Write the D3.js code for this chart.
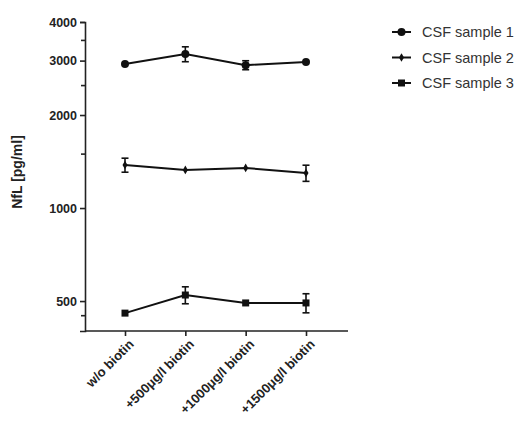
<!doctype html>
<html>
    <head>
        <style>
            body {margin:0; background:#fff}
            svg {width:523px; height:422px; font-family:"Liberation Sans", Arial, sans-serif}
            .axis path, .axis line {fill:none; stroke:#222; stroke-width:1.6px}
            .axis text {font-weight:bold; font-size:12.5px; fill:#222}
        </style>
        <script src="https://d3js.org/d3.v7.min.js"></script>
    </head>
    <body>
        <script>
            // data
            var categories = ["w/o biotin", "+500\u03bcg/l biotin", "+1000\u03bcg/l biotin", "+1500\u03bcg/l biotin"];
            var seriesNames = ["CSF sample 1", "CSF sample 2", "CSF sample 3"];
            var sample1 = [2925, 3150, 2900, 2970];
            var sample2 = [1378, 1328, 1348, 1298];
            var sample3 = [457, 523, 493, 493];
            var err1 = [0, 175, 97, 0];
            var err2 = [72, 0, 0, 78];
            var err3 = [0, 33, 0, 35];
            var yTicks = [500, 1000, 2000, 3000, 4000];
            var yMinorTicks = [450, 1500, 2500, 3500];

            var series = [
                {name:seriesNames[0], values:sample1, err:err1, shape:"circle"},
                {name:seriesNames[1], values:sample2, err:err2, shape:"diamond"},
                {name:seriesNames[2], values:sample3, err:err3, shape:"square"}
            ];

            var svg = d3.select("body").append("svg");

            var x = d3.scalePoint().domain(categories).range([125, 306]);
            var y = d3.scaleLog().domain([400, 4000]).range([331, 22]);

            // y axis
            svg.append("g").attr("class","axis")
                .attr("transform","translate(85,0)")
                .call(d3.axisLeft(y).tickValues(yTicks).tickFormat(d3.format("d")).tickSizeOuter(0).tickSize(5).tickPadding(3));
            svg.append("g").attr("class","axis")
                .attr("transform","translate(85,0)")
                .call(d3.axisLeft(y).tickValues(yMinorTicks).tickFormat("").tickSizeOuter(0).tickSize(4))
                .select("path").remove();

            // x axis
            var xAxis = svg.append("g").attr("class","axis")
                .attr("transform","translate(0,331)")
                .call(d3.axisBottom(x).tickSizeOuter(0).tickSize(5));
            xAxis.select("path").attr("d","M85,0H348");
            xAxis.selectAll("text")
                .style("text-anchor","end")
                .attr("x",0).attr("y",0)
                .attr("dx","0")
                .attr("dy","0")
                .attr("transform","translate(9,14) rotate(-45)")
                .style("font-size","13px");

            // y title
            svg.append("text")
                .attr("transform","translate(22,172) rotate(-90)")
                .attr("text-anchor","middle")
                .style("font-weight","bold").style("font-size","14px").style("fill","#222")
                .text("NfL [pg/ml]");

            var line = d3.line().x(function(d,i){return x(categories[i])}).y(function(d){return y(d)});

            function marker(g, shape, cx, cy) {
                if (shape=="circle") {
                    g.append("circle").attr("cx",cx).attr("cy",cy).attr("r",4).attr("fill","#111");
                } else if (shape=="diamond") {
                    g.append("path").attr("d",d3.symbol(d3.symbolDiamond, 22)()).attr("transform","translate("+cx+","+cy+")").attr("fill","#111");
                } else {
                    g.append("rect").attr("x",cx-3.5).attr("y",cy-3.5).attr("width",7).attr("height",7).attr("fill","#111");
                }
            }

            series.forEach(function(s){
                var g = svg.append("g");
                g.append("path").datum(s.values).attr("d",line)
                    .attr("fill","none").attr("stroke","#111").attr("stroke-width",2);
                s.values.forEach(function(v,i){
                    var cx = x(categories[i]);
                    if (s.err[i] > 0) {
                        var y1 = y(v + s.err[i]), y2 = y(v - s.err[i]);
                        g.append("line").attr("x1",cx).attr("x2",cx).attr("y1",y1).attr("y2",y2).attr("stroke","#111").attr("stroke-width",1.6);
                        g.append("line").attr("x1",cx-3.5).attr("x2",cx+3.5).attr("y1",y1).attr("y2",y1).attr("stroke","#111").attr("stroke-width",1.6);
                        g.append("line").attr("x1",cx-3.5).attr("x2",cx+3.5).attr("y1",y2).attr("y2",y2).attr("stroke","#111").attr("stroke-width",1.6);
                    }
                    marker(g, s.shape, cx, y(v));
                });
            });

            // legend
            series.forEach(function(s,i){
                var ly = 32 + i*25.5;
                var g = svg.append("g");
                g.append("line").attr("x1",392).attr("x2",411).attr("y1",ly).attr("y2",ly).attr("stroke","#111").attr("stroke-width",2);
                marker(g, s.shape, 401.5, ly);
                g.append("text").attr("x",422).attr("y",ly).attr("dy","0.36em")
                    .style("font-size","14.5px").style("fill","#333").text(s.name);
            });
        </script>
    </body>
</html>
